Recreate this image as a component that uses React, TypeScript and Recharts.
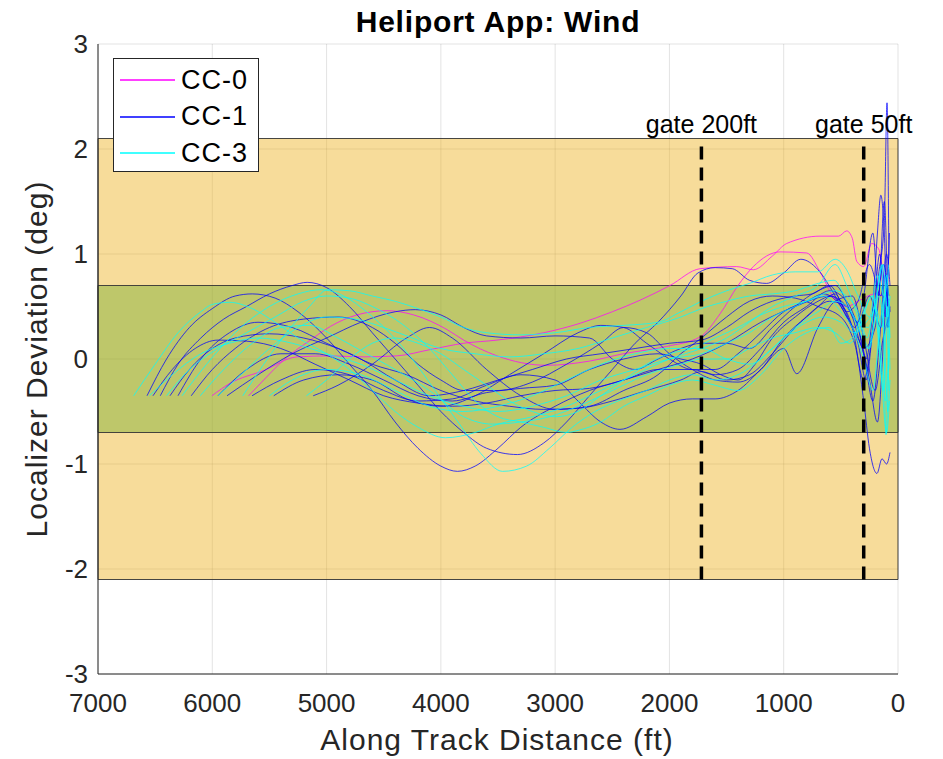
import { LineChart, Line, XAxis, YAxis, CartesianGrid, ReferenceArea, ReferenceLine } from "recharts";

// along-track distance (ft), localizer deviation (deg)
const xTicks = [7000, 6000, 5000, 4000, 3000, 2000, 1000, 0];
const yTicks = [-3, -2, -1, 0, 1, 2, 3];
const outerBand = [-2.1, 2.1];
const innerBand = [-0.7, 0.7];
const gates = [
  { x: 1720, label: "gate 200ft" },
  { x: 300, label: "gate 50ft" },
];

const cc0a = [[6003, -0.35], [5842, -0.23], [5550, -0.11], [5259, 0.02], [4967, 0.03], [4675, 0.02], [4384, 0.03], [4092, 0.09], [3800, 0.15], [3509, 0.18], [3100, 0.25], [2782, 0.34], [2500, 0.45], [2257, 0.56], [1995, 0.7], [1732, 0.86], [1412, 0.88], [1266, 0.85], [1100, 0.98], [974, 1.1], [682, 1.17], [520, 1.17], [449, 1.22], [400, 1.15], [361, 0.93], [300, 0.88], [230, 1.1], [170, 1.05], [120, 0.75], [80, 0.55]];
const cc0b = [[5682, -0.35], [5550, -0.2], [5376, -0.01], [5142, 0.18], [4967, 0.31], [4734, 0.42], [4471, 0.46], [4238, 0.42], [3946, 0.28], [3800, 0.18], [3509, 0.03], [3074, -0.06], [2700, -0.02], [2403, 0.05], [2024, 0.12], [1732, 0.21], [1557, 0.43], [1400, 0.7], [1266, 0.88], [1032, 1.02], [799, 1.01], [682, 0.83], [566, 0.59], [450, 0.5], [332, 0.56], [200, 0.62], [70, 0.56]];

const cc1a = [[6571, -0.35], [6400, 0.0], [6200, 0.3], [6000, 0.48], [5800, 0.6], [5650, 0.62], [5450, 0.58], [5250, 0.45], [5000, 0.2], [4800, -0.05], [4600, -0.3], [4400, -0.6], [4200, -0.85], [4000, -1.02], [3855, -1.07], [3700, -1.02], [3500, -0.85], [3300, -0.65], [3000, -0.45], [2700, -0.3], [2400, -0.2], [2100, -0.1], [1800, 0.0], [1500, 0.15], [1200, 0.35], [900, 0.5], [600, 0.6], [450, 0.5], [350, 0.3], [250, -0.2], [180, -0.6], [120, 0.3], [80, 1.0]];
const cc1b = [[6455, -0.35], [6300, -0.05], [6100, 0.2], [5900, 0.38], [5700, 0.5], [5500, 0.62], [5300, 0.7], [5170, 0.73], [5000, 0.68], [4800, 0.5], [4600, 0.25], [4400, 0.0], [4200, -0.25], [4000, -0.5], [3800, -0.7], [3600, -0.85], [3330, -0.91], [3100, -0.8], [2900, -0.6], [2700, -0.35], [2500, -0.1], [2300, 0.15], [2100, 0.35], [1900, 0.6], [1750, 0.82], [1600, 0.87], [1450, 0.86], [1300, 0.75], [1150, 0.72], [1000, 0.82], [850, 0.95], [700, 0.85], [550, 0.6], [400, 0.3], [300, -0.4], [250, -0.85], [184, -1.09], [140, -0.95], [100, -1.0], [70, -0.89]];
const cc1c = [[6519, -0.35], [6350, -0.1], [6150, 0.1], [5950, 0.18], [5700, 0.17], [5400, 0.1], [5100, -0.05], [4800, -0.2], [4500, -0.35], [4200, -0.42], [3900, -0.45], [3600, -0.42], [3300, -0.35], [3000, -0.3], [2700, -0.28], [2400, -0.2], [2100, -0.1], [1800, -0.1], [1600, -0.15], [1400, -0.1], [1200, 0.1], [1000, 0.35], [800, 0.5], [600, 0.65], [450, 0.55], [350, 0.3], [280, 0.0], [220, 0.5], [180, 1.2], [150, 1.56], [120, 1.2], [90, 0.3], [70, 0.5]];
const cc1d = [[6370, -0.35], [6200, -0.1], [6000, 0.1], [5800, 0.2], [5500, 0.24], [5200, 0.2], [4900, 0.1], [4600, -0.05], [4300, -0.15], [4000, -0.3], [3700, -0.4], [3400, -0.45], [3100, -0.48], [2800, -0.47], [2500, -0.4], [2200, -0.3], [1900, -0.2], [1720, -0.12], [1500, -0.2], [1300, -0.15], [1100, 0.05], [900, 0.3], [700, 0.5], [550, 0.62], [450, 0.45], [350, 0.55], [250, 0.9], [150, 0.6], [100, 1.0], [70, 0.7]];
const cc1e = [[6184, -0.35], [6000, -0.1], [5800, 0.1], [5500, 0.3], [5200, 0.38], [4900, 0.4], [4600, 0.3], [4400, 0.15], [4200, -0.05], [4000, -0.2], [3800, -0.3], [3500, -0.3], [3200, -0.22], [2900, -0.05], [2600, 0.15], [2400, 0.3], [2200, 0.25], [2000, 0.05], [1800, -0.1], [1600, -0.2], [1400, -0.22], [1200, -0.1], [1000, 0.2], [800, 0.4], [600, 0.55], [450, 0.5], [350, 0.35], [250, 0.6], [150, 0.3], [100, 0.6], [70, 0.45]];
const cc1f = [[5871, -0.35], [5600, -0.15], [5300, 0.05], [5000, 0.2], [4700, 0.35], [4400, 0.45], [4224, 0.47], [4000, 0.42], [3800, 0.3], [3600, 0.22], [3300, 0.2], [3000, 0.22], [2700, 0.2], [2500, 0.0], [2300, -0.1], [2100, 0.0], [1900, 0.1], [1720, 0.15], [1500, 0.15], [1300, 0.1], [1100, 0.3], [900, 0.5], [700, 0.65], [550, 0.7], [400, 0.4], [300, 0.1], [200, 0.3], [130, 0.9], [80, 0.6]];
const cc1g = [[5652, -0.35], [5400, -0.2], [5100, -0.1], [4800, -0.15], [4500, -0.3], [4200, -0.4], [3900, -0.38], [3600, -0.25], [3300, -0.15], [3000, -0.2], [2800, -0.4], [2600, -0.6], [2433, -0.67], [2200, -0.55], [2000, -0.42], [1800, -0.38], [1600, -0.38], [1400, -0.3], [1200, -0.1], [1000, 0.1], [886, -0.14], [700, 0.3], [550, 0.55], [400, 0.6], [300, 0.2], [200, -0.3], [130, 0.2], [80, 0.4]];
const cc1h = [[5462, -0.35], [5200, -0.2], [4900, -0.15], [4600, -0.2], [4300, -0.38], [4000, -0.45], [3700, -0.35], [3400, -0.15], [3100, 0.05], [2800, 0.25], [2600, 0.32], [2400, 0.3], [2200, 0.15], [2000, 0.0], [1800, -0.1], [1600, -0.1], [1400, 0.05], [1200, 0.25], [1000, 0.45], [800, 0.55], [650, 0.62], [500, 0.5], [400, 0.3], [300, 0.05], [220, -0.4], [160, 0.2], [110, 0.8], [80, 0.3]];
const cc1i = [[5117, -0.35], [4900, -0.25], [4600, -0.05], [4300, 0.2], [4100, 0.3], [3900, 0.2], [3600, -0.1], [3300, -0.35], [3000, -0.48], [2700, -0.45], [2400, -0.3], [2100, -0.15], [1900, 0.05], [1720, 0.2], [1500, 0.4], [1300, 0.55], [1100, 0.6], [900, 0.58], [700, 0.5], [500, 0.4], [380, 0.15], [300, -0.2], [230, 0.2], [170, 0.8], [120, 1.3], [96, 2.44], [80, 1.0]];
const cc1j = [[6300, -0.35], [6100, 0.0], [5850, 0.25], [5600, 0.35], [5300, 0.3], [5000, 0.15], [4700, 0.0], [4400, -0.2], [4100, -0.35], [3800, -0.3], [3500, -0.2], [3200, -0.1], [2900, 0.0], [2600, 0.05], [2300, 0.1], [2000, 0.15], [1720, 0.18], [1500, 0.3], [1300, 0.45], [1100, 0.55], [900, 0.6], [750, 0.62], [600, 0.7], [480, 0.5], [380, 0.3], [300, 0.6], [220, 1.2], [170, 0.6], [120, 1.5], [90, 0.5]];
const cc1k = [[5950, -0.35], [5700, -0.1], [5400, 0.05], [5100, 0.05], [4800, -0.05], [4500, -0.2], [4200, -0.35], [3900, -0.4], [3600, -0.32], [3300, -0.28], [3000, -0.25], [2700, -0.1], [2400, 0.0], [2100, 0.05], [1900, 0.0], [1720, -0.05], [1550, -0.15], [1400, -0.2], [1250, -0.05], [1100, 0.2], [900, 0.4], [700, 0.55], [580, 0.6], [450, 0.4], [350, 0.15], [280, -0.2], [220, 0.3], [160, 1.0], [110, 0.4], [75, 1.2]];

const cc3a = [[6688, -0.35], [6500, -0.05], [6300, 0.25], [6100, 0.45], [6000, 0.52], [5850, 0.54], [5650, 0.48], [5450, 0.35], [5250, 0.2], [5000, 0.05], [4800, -0.1], [4600, -0.3], [4400, -0.5], [4200, -0.65], [3960, -0.75], [3700, -0.7], [3500, -0.62], [3200, -0.55], [2900, -0.45], [2600, -0.3], [2300, -0.15], [2000, 0.0], [1720, 0.1], [1500, 0.2], [1300, 0.35], [1100, 0.5], [900, 0.6], [700, 0.7], [550, 0.9], [450, 0.7], [350, 0.4], [250, 0.1], [170, 0.6], [120, 0.2], [90, -0.5], [70, -0.2]];
const cc3b = [[6265, -0.35], [6050, -0.05], [5800, 0.25], [5500, 0.5], [5250, 0.62], [5050, 0.66], [4850, 0.6], [4650, 0.45], [4450, 0.25], [4250, 0.0], [4050, -0.3], [3850, -0.6], [3650, -0.9], [3460, -1.07], [3250, -1.02], [3050, -0.85], [2850, -0.65], [2650, -0.5], [2450, -0.4], [2200, -0.3], [2000, -0.2], [1800, -0.15], [1600, -0.2], [1400, -0.15], [1200, 0.0], [1000, 0.2], [800, 0.35], [650, 0.4], [500, 0.35], [380, 0.25], [280, 0.35], [200, 0.5], [140, 0.9], [105, -0.72], [80, 0.1]];
const cc3c = [[6105, -0.35], [5900, -0.1], [5650, 0.15], [5400, 0.3], [5150, 0.32], [4900, 0.2], [4650, 0.05], [4400, -0.1], [4100, -0.3], [3800, -0.55], [3550, -0.62], [3300, -0.6], [3050, -0.55], [2800, -0.45], [2500, -0.3], [2200, -0.15], [1900, -0.05], [1720, 0.0], [1500, 0.0], [1300, 0.1], [1100, 0.2], [900, 0.25], [700, 0.3], [550, 0.25], [420, 0.15], [320, 0.35], [230, 0.6], [160, 0.2], [110, -0.4], [75, 0.3]];
const cc3d = [[5733, -0.35], [5550, -0.05], [5350, 0.25], [5150, 0.5], [4990, 0.66], [4800, 0.65], [4600, 0.6], [4400, 0.55], [4200, 0.48], [4000, 0.4], [3800, 0.3], [3600, 0.25], [3300, 0.23], [3000, 0.25], [2700, 0.3], [2400, 0.32], [2100, 0.35], [1900, 0.45], [1720, 0.55], [1500, 0.65], [1300, 0.72], [1100, 0.8], [900, 0.83], [700, 0.83], [550, 0.95], [450, 0.85], [350, 0.6], [250, 0.4], [180, 0.8], [120, 0.6], [80, 0.9]];
const cc3e = [[5176, -0.35], [5000, -0.2], [4800, 0.0], [4600, 0.15], [4400, 0.2], [4200, 0.15], [4000, 0.05], [3800, -0.1], [3600, -0.25], [3400, -0.4], [3200, -0.5], [3000, -0.55], [2800, -0.5], [2600, -0.35], [2400, -0.2], [2200, -0.05], [2000, 0.05], [1800, 0.1], [1600, 0.2], [1400, 0.3], [1200, 0.42], [1000, 0.5], [800, 0.55], [650, 0.6], [500, 0.45], [400, 0.3], [300, 0.0], [220, -0.3], [160, 0.3], [110, 0.6], [80, -0.3]];
const cc3f = [[6400, -0.35], [6200, -0.1], [5950, 0.1], [5700, 0.25], [5450, 0.4], [5200, 0.55], [5000, 0.6], [4800, 0.58], [4600, 0.5], [4300, 0.3], [4100, 0.1], [3900, -0.15], [3700, -0.4], [3500, -0.55], [3300, -0.6], [3100, -0.65], [2900, -0.7], [2800, -0.68], [2600, -0.6], [2400, -0.45], [2200, -0.35], [2000, -0.25], [1800, -0.2], [1600, -0.25], [1400, -0.3], [1200, -0.15], [1000, 0.1], [800, 0.25], [600, 0.3], [500, 0.15], [400, 0.2], [300, 0.45], [220, 0.6], [150, -0.1], [100, -0.7], [75, -0.4]];
const cc3g = [[5500, -0.35], [5300, -0.2], [5000, -0.1], [4700, -0.15], [4400, -0.3], [4100, -0.45], [3800, -0.5], [3500, -0.45], [3200, -0.35], [2900, -0.2], [2600, -0.05], [2300, 0.05], [2000, 0.1], [1720, 0.1], [1500, 0.0], [1300, -0.05], [1100, 0.1], [900, 0.3], [700, 0.45], [550, 0.55], [450, 0.5], [350, 0.35], [260, 0.3], [190, 0.6], [130, 0.9], [90, 0.4], [70, 0.6]];
const cc3h = [[6550, -0.35], [6350, -0.15], [6100, 0.05], [5850, 0.15], [5600, 0.2], [5300, 0.15], [5000, 0.05], [4700, -0.05], [4400, -0.2], [4100, -0.35], [3800, -0.45], [3500, -0.5], [3200, -0.45], [2900, -0.35], [2600, -0.2], [2300, -0.1], [2000, 0.0], [1720, 0.05], [1500, 0.15], [1300, 0.25], [1100, 0.4], [900, 0.5], [700, 0.6], [550, 0.65], [450, 0.6], [350, 0.45], [270, 0.2], [200, 0.5], [140, 0.3], [100, 0.8], [70, 0.2]];
const cc3i = [[5950, -0.35], [5750, -0.15], [5500, 0.1], [5250, 0.3], [5000, 0.4], [4750, 0.38], [4500, 0.3], [4250, 0.2], [4000, 0.1], [3700, 0.05], [3400, 0.02], [3100, 0.05], [2800, 0.1], [2500, 0.2], [2200, 0.3], [1900, 0.4], [1720, 0.48], [1500, 0.55], [1300, 0.6], [1100, 0.62], [900, 0.65], [700, 0.72], [560, 0.75], [450, 0.55], [350, 0.3], [260, 0.1], [190, 0.4], [130, -0.3], [95, 0.5], [70, -0.1]];

const seriesColors = { "CC-0": "#ff00ff", "CC-1": "#0000ff", "CC-3": "#00ffff" };
const runs = [
  { name: "CC-0", pts: cc0a },
  { name: "CC-0", pts: cc0b },
  { name: "CC-1", pts: cc1a },
  { name: "CC-1", pts: cc1b },
  { name: "CC-1", pts: cc1c },
  { name: "CC-1", pts: cc1d },
  { name: "CC-1", pts: cc1e },
  { name: "CC-1", pts: cc1f },
  { name: "CC-1", pts: cc1g },
  { name: "CC-1", pts: cc1h },
  { name: "CC-1", pts: cc1i },
  { name: "CC-1", pts: cc1j },
  { name: "CC-1", pts: cc1k },
  { name: "CC-3", pts: cc3a },
  { name: "CC-3", pts: cc3b },
  { name: "CC-3", pts: cc3c },
  { name: "CC-3", pts: cc3d },
  { name: "CC-3", pts: cc3e },
  { name: "CC-3", pts: cc3f },
  { name: "CC-3", pts: cc3g },
  { name: "CC-3", pts: cc3h },
  { name: "CC-3", pts: cc3i },
];

const font = "Helvetica, 'Liberation Sans', Arial, sans-serif";
const ink = "#262626";

// legend drawn as an overlay so it doesn't push the plot area down
const LegendBox = () => (
  <div
    style={{
      position: "absolute",
      left: 113,
      top: 58,
      width: 146,
      height: 114,
      background: "#fff",
      border: `1px solid ${ink}`,
      fontFamily: font,
      fontSize: 27,
      letterSpacing: 1,
      color: "#000",
      paddingTop: 3,
      boxSizing: "border-box",
    }}
  >
    {Object.entries(seriesColors).map(([name, color]) => (
      <div key={name} style={{ display: "flex", alignItems: "center", height: 36.5 }}>
        <svg width={67} height={4} style={{ display: "block" }}>
          <line x1={6} x2={61} y1={2} y2={2} stroke={color} strokeWidth={1.5} />
        </svg>
        <span>{name}</span>
      </div>
    ))}
  </div>
);

export default function App() {
  return (
    <div style={{ position: "absolute", left: 0, top: 0, width: 943, height: 759, background: "#fff" }}>
      <LineChart width={943} height={759} margin={{ top: 44, right: 45, left: 0, bottom: 0 }}>
        <CartesianGrid stroke={ink} strokeOpacity={0.13} horizontal vertical />
        <XAxis
          type="number"
          dataKey="x"
          domain={[0, 7000]}
          reversed
          ticks={xTicks}
          allowDataOverflow
          height={85}
          tickLine={false}
          tickSize={0}
          tickMargin={20}
          axisLine={{ stroke: ink }}
          tick={{ fill: ink, fontSize: 26, fontFamily: font }}
          label={{
            content: () => (
              <text x={497} y={750} textAnchor="middle" fill={ink} fontSize={30} letterSpacing={1} fontFamily={font}>
                Along Track Distance (ft)
              </text>
            ),
          }}
        />
        <YAxis
          type="number"
          domain={[-3, 3]}
          ticks={yTicks}
          allowDataOverflow
          width={98}
          tickLine={false}
          tickSize={0}
          tickMargin={10}
          axisLine={{ stroke: ink }}
          tick={{ fill: ink, fontSize: 26, fontFamily: font }}
          label={{
            content: () => (
              <text
                x={47}
                y={359}
                transform="rotate(-90 47 359)"
                textAnchor="middle"
                fill={ink}
                fontSize={30}
                letterSpacing={1}
                fontFamily={font}
              >
                Localizer Deviation (deg)
              </text>
            ),
          }}
        />
        <ReferenceArea
          x1={7000}
          x2={0}
          y1={outerBand[0]}
          y2={outerBand[1]}
          fill="#edb120"
          fillOpacity={0.45}
          stroke="#333"
          strokeOpacity={0.9}
        />
        <ReferenceArea
          x1={7000}
          x2={0}
          y1={innerBand[0]}
          y2={innerBand[1]}
          fill="#77ac30"
          fillOpacity={0.45}
          stroke="#333"
          strokeOpacity={0.9}
        />
        {runs.map((r, i) => (
          <Line
            key={i}
            data={r.pts.map(([x, y]) => ({ x, y }))}
            dataKey="y"
            type="monotone"
            stroke={seriesColors[r.name]}
            strokeOpacity={0.75}
            strokeWidth={1}
            dot={false}
            activeDot={false}
            isAnimationActive={false}
          />
        ))}
        {gates.map((g) => (
          <ReferenceLine
            key={g.label}
            segment={[
              { x: g.x, y: outerBand[0] },
              { x: g.x, y: outerBand[1] },
            ]}
            stroke="#000"
            strokeWidth={3.5}
            strokeDasharray="13 8"
            label={{ value: g.label, position: "top", offset: 6, fill: "#000", fontSize: 25, fontFamily: font }}
          />
        ))}
        <text x={498} y={32} textAnchor="middle" fontSize={30} fontWeight="bold" letterSpacing={0.8} fontFamily={font} fill="#000">
          Heliport App: Wind
        </text>
      </LineChart>
      <LegendBox />
    </div>
  );
}
